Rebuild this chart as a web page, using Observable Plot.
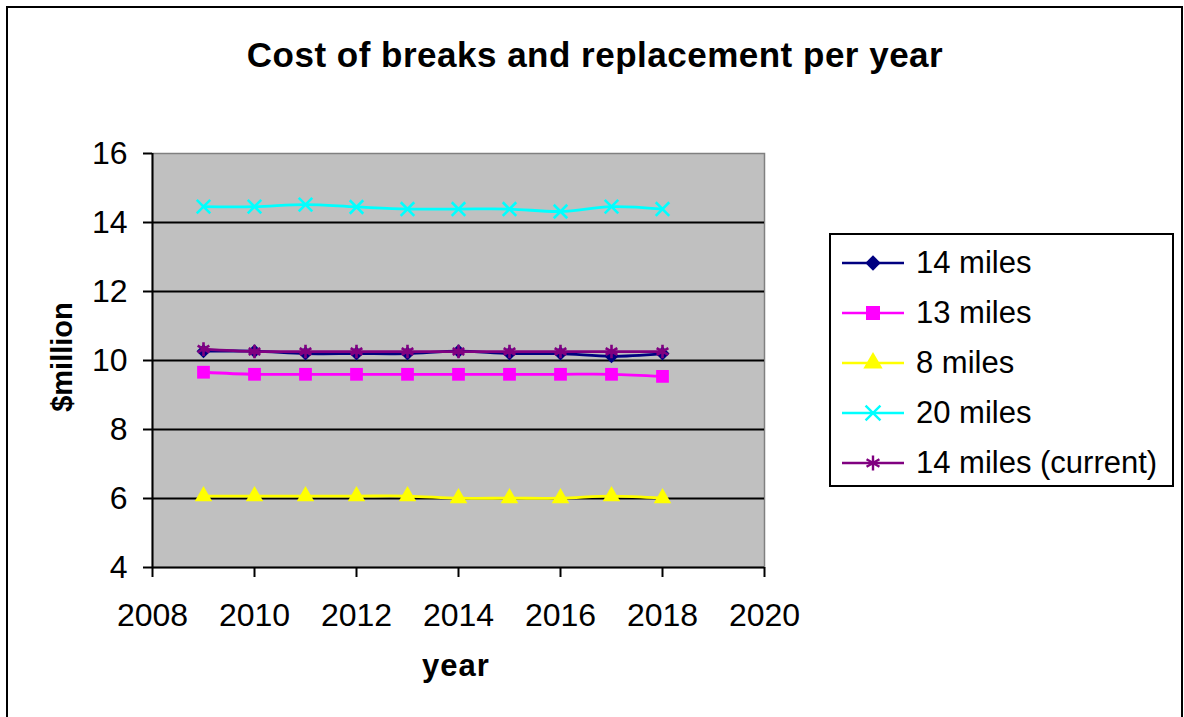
<!DOCTYPE html>
<html>
<head>
<meta charset="utf-8">
<script src="https://cdn.jsdelivr.net/npm/d3@7"></script>
<script src="https://cdn.jsdelivr.net/npm/@observablehq/plot@0.6"></script>
<style>
  body { margin: 0; background: #fff; font-family: "Liberation Sans", Arial, sans-serif; }
  #chart { position: relative; width: 1184px; height: 717px; overflow: hidden; background: #fff; }
  #chart > svg { position: absolute; left: 0; top: 0; }
  #frame { position: absolute; left: 6px; top: 6px; width: 1177px; height: 760px; border: 2px solid #000; box-sizing: border-box; pointer-events: none; }
  .title { position: absolute; left: 0; width: 1190px; top: 37px; text-align: center; font-weight: bold; font-size: 35px; line-height: 1; letter-spacing: 0.5px; color: #000; white-space: nowrap; }
  .ylabel { position: absolute; left: 62px; top: 357px; transform: translate(-50%, -50%) rotate(-90deg); font-weight: bold; font-size: 29px; line-height: 1; white-space: nowrap; }
  .xlabel { position: absolute; left: 456px; top: 650px; transform: translateX(-50%); font-weight: bold; font-size: 31px; line-height: 1; letter-spacing: 1px; white-space: nowrap; }
  #legend { position: absolute; left: 829px; top: 233px; width: 345px; height: 254px; border: 2px solid #000; box-sizing: border-box; background: #fff; padding-top: 3px; }
  .row { display: flex; align-items: center; height: 50px; padding-left: 11px; }
  .row svg { display: block; }
  .row span { margin-left: 12px; font-size: 31px; white-space: nowrap; color: #000; }
</style>
</head>
<body>
<div id="chart">
  <div id="frame"></div>
  <div class="title">Cost of breaks and replacement per year</div>
  <div class="ylabel">$million</div>
  <div class="xlabel">year</div>
  <div id="legend"></div>
</div>
<script>
// Yearly cost ($ million) for each replacement scenario
const years = [2009, 2010, 2011, 2012, 2013, 2014, 2015, 2016, 2017, 2018];
const miles14 = [10.27, 10.27, 10.2, 10.2, 10.2, 10.27, 10.2, 10.2, 10.12, 10.2];
const miles13 = [9.66, 9.6, 9.6, 9.6, 9.6, 9.6, 9.6, 9.6, 9.6, 9.54];
const miles8 = [6.07, 6.07, 6.07, 6.07, 6.07, 6.01, 6.01, 6.01, 6.07, 6.01];
const miles20 = [14.46, 14.46, 14.52, 14.45, 14.39, 14.39, 14.39, 14.32, 14.46, 14.39];
const miles14current = [10.33, 10.26, 10.26, 10.26, 10.26, 10.26, 10.26, 10.26, 10.26, 10.26];

const seriesNames = ["14 miles", "13 miles", "8 miles", "20 miles", "14 miles (current)"];
const seriesValues = [miles14, miles13, miles8, miles20, miles14current];
const seriesColors = ["#000080", "#ff00ff", "#ffff00", "#00ffff", "#800080"];
const seriesSymbols = ["diamond2", "square", "triangle", "times", "asterisk"];
const seriesRadius = [6.3, 7.2, 6.5, 6.2, 6.4];
const strokedSymbols = new Set(["times", "asterisk"]);

const xTicks = [2008, 2010, 2012, 2014, 2016, 2018, 2020];
const yTicks = [4, 6, 8, 10, 12, 14, 16];

// long-format table for the marks
const rows = seriesNames.flatMap((name, i) =>
  years.map((year, j) => ({ series: name, year, value: seriesValues[i][j] }))
);

const marks = [
  Plot.frame({ fill: "#c0c0c0", stroke: "#808080", strokeWidth: 1.5 }),
  Plot.ruleY(yTicks.filter(t => t > 4 && t < 16), { stroke: "#000", strokeWidth: 2 }),
  Plot.ruleX([2008], { stroke: "#000", strokeWidth: 2 }),
  Plot.ruleY([4], { stroke: "#000", strokeWidth: 2 }),
  Plot.axisY({ ticks: yTicks, tickSize: 9, tickPadding: 16, fontSize: 32, strokeWidth: 2, color: "#000", label: null }),
  Plot.axisX({ ticks: xTicks, tickSize: 10, tickPadding: 26, fontSize: 32, strokeWidth: 2, color: "#000", tickFormat: d => String(d), label: null })
];

seriesNames.forEach((name, i) => {
  const data = rows.filter(r => r.series === name);
  marks.push(Plot.line(data, {
    x: "year", y: "value", stroke: seriesColors[i], strokeWidth: 2.8, curve: "catmull-rom"
  }));
  const stroked = strokedSymbols.has(seriesSymbols[i]);
  marks.push(Plot.dot(data, {
    x: "year", y: "value", symbol: seriesSymbols[i], r: seriesRadius[i],
    fill: stroked ? "none" : seriesColors[i],
    stroke: stroked ? seriesColors[i] : "none",
    strokeWidth: stroked ? 2.6 : 0
  }));
});

const plot = Plot.plot({
  width: 1184,
  height: 717,
  marginLeft: 152,
  marginRight: 420,
  marginTop: 153,
  marginBottom: 150,
  x: { domain: [2008, 2020] },
  y: { domain: [4, 16] },
  style: { fontFamily: "'Liberation Sans', Arial, sans-serif", background: "transparent", color: "#000" },
  marks
});
document.getElementById("chart").insertBefore(plot, document.getElementById("frame"));

// legend: line segment with the series marker, then the name
const legend = d3.select("#legend");
const symbolMap = {
  diamond2: d3.symbolDiamond2, square: d3.symbolSquare, triangle: d3.symbolTriangle,
  times: d3.symbolTimes, asterisk: d3.symbolAsterisk
};
seriesNames.forEach((name, i) => {
  const row = legend.append("div").attr("class", "row");
  const svg = row.append("svg").attr("width", 62).attr("height", 26);
  svg.append("line").attr("x1", 0).attr("x2", 62).attr("y1", 13).attr("y2", 13)
    .attr("stroke", seriesColors[i]).attr("stroke-width", 2.5);
  const stroked = strokedSymbols.has(seriesSymbols[i]);
  const r = seriesRadius[i] * 1.1;
  svg.append("path")
    .attr("transform", "translate(31,13)")
    .attr("d", d3.symbol(symbolMap[seriesSymbols[i]], r * r * Math.PI)())
    .attr("fill", stroked ? "none" : seriesColors[i])
    .attr("stroke", stroked ? seriesColors[i] : "none")
    .attr("stroke-width", stroked ? 2.4 : 0);
  row.append("span").text(name);
});
</script>
</body>
</html>
